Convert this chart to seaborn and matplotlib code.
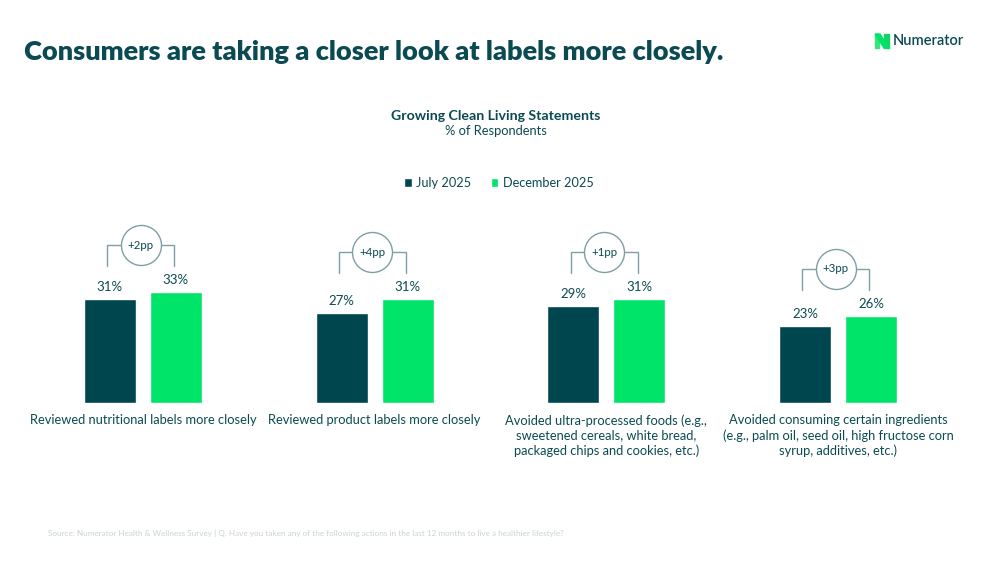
import matplotlib
matplotlib.use("Agg")
import matplotlib.pyplot as plt
import seaborn as sns
import pandas as pd
from matplotlib.patches import Rectangle, Polygon

# ---- data ----
categories = [
    "Reviewed nutritional labels more closely",
    "Reviewed product labels more closely",
    "Avoided ultra-processed foods (e.g.,\nsweetened cereals, white bread,\npackaged chips and cookies, etc.)",
    "Avoided consuming certain ingredients\n(e.g., palm oil, seed oil, high fructose corn\nsyrup, additives, etc.)",
]
periods = ["July 2025", "December 2025"]
july_2025 = [31, 27, 29, 23]
december_2025 = [33, 31, 31, 26]
changes = ["+2pp", "+4pp", "+1pp", "+3pp"]

title = "Consumers are taking a closer look at labels more closely."
chart_title = "Growing Clean Living Statements"
chart_subtitle = "% of Respondents"
source = ("Source: Numerator Health & Wellness Survey | Q. Have you taken any of the following "
          "actions in the last 12 months to live a healthier lifestyle?")

DARK = "#00464F"
GREEN = "#00E469"
TEXT = "#0B4A52"
LINE = "#7F9FA4"

W, H = 1003, 568
sns.set_theme(style="white")
plt.rcParams["font.family"] = ["Lato", "DejaVu Sans"]

fig = plt.figure(figsize=(W / 100, H / 100), dpi=100)
fig.patch.set_facecolor("white")


def fx(x):
    return x / W


def fy(y):
    return 1 - y / H


PX_PER_UNIT_Y = 3.35
ax_left, ax_right, ax_base, ax_top = 27, 954, 403, 203
ax = fig.add_axes([fx(ax_left), fy(ax_base), (ax_right - ax_left) / W, (ax_base - ax_top) / H])
ymax = (ax_base - ax_top) / PX_PER_UNIT_Y

short = [f"c{i}" for i in range(len(categories))]
df = pd.DataFrame({
    "category": short * 2,
    "period": [periods[0]] * 4 + [periods[1]] * 4,
    "value": july_2025 + december_2025,
})

BAR_W = 0.57
sns.barplot(data=df, x="category", y="value", hue="period", order=short,
            hue_order=periods, palette=[DARK, GREEN], width=BAR_W, gap=0.212,
            saturation=1, ax=ax, legend=True)

ax.set_xlim(-0.5, len(categories) - 0.5)
ax.set_ylim(0, ymax)
ax.set_axis_off()

off = BAR_W / 4
lab_gap = 12 / PX_PER_UNIT_Y
for i in range(len(categories)):
    for j, vals in enumerate([july_2025, december_2025]):
        xc = i + (-off if j == 0 else off)
        ax.text(xc, vals[i] + lab_gap, f"{vals[i]}%", ha="center", va="center",
                fontsize=9.5, color=TEXT)
    # bracket
    top = max(july_2025[i], december_2025[i])
    yh = top + 47 / PX_PER_UNIT_Y
    yb = yh - 21 / PX_PER_UNIT_Y
    xl, xr = i - off - 0.012, i + off - 0.008
    ax.plot([xl, xl, xr, xr], [yb, yh, yh, yb], color=LINE, lw=1.0, clip_on=False,
            solid_joinstyle="miter", zorder=3)
    xm = (xl + xr) / 2
    ax.plot([xm], [yh], marker="o", markersize=28.8, markerfacecolor="white",
            markeredgecolor=LINE, markeredgewidth=1.0, clip_on=False, zorder=4)
    ax.text(xm, yh, changes[i], ha="center", va="center", fontsize=8.3, color=TEXT,
            zorder=5)
    # category label
    ax.text(i, -3.4, categories[i], ha="center", va="top", fontsize=9.3, color=TEXT,
            linespacing=1.27, clip_on=False)

# legend
handles, labels = ax.get_legend_handles_labels()
ax.legend(handles, labels, loc="center", bbox_to_anchor=(fx(499), fy(183)),
          bbox_transform=fig.transFigure, ncol=2, frameon=False,
          handlelength=0.6, handleheight=0.6, handletextpad=0.35,
          columnspacing=1.5, fontsize=9.2, labelcolor=TEXT)

# titles
fig.text(fx(24), fy(52), title, ha="left", va="center", fontsize=19.5,
         fontweight="heavy", color=TEXT)
fig.text(fx(496), fy(116), chart_title, ha="center", va="center", fontsize=10.2,
         fontweight="bold", color=TEXT)
fig.text(fx(496), fy(131), chart_subtitle, ha="center", va="center", fontsize=9.3,
         color=TEXT)
fig.text(fx(48), fy(533), source, ha="left", va="center", fontsize=5.9,
         color="#C9D3D6")

# logo
fig.patches.append(Rectangle((fx(875), fy(48)), fx(4.5), 14 / H, transform=fig.transFigure,
                             color="#3BE37F", zorder=5))
fig.patches.append(Rectangle((fx(884.5), fy(48)), fx(4.5), 14 / H, transform=fig.transFigure,
                             color="#12D468", zorder=5))
fig.patches.append(Polygon([(fx(875), fy(34)), (fx(880), fy(34)), (fx(889), fy(48)), (fx(884), fy(48))],
                           closed=True, transform=fig.transFigure, color="#00E469", zorder=6))
fig.text(fx(893), fy(41), "Numerator", ha="left", va="center", fontsize=10.5,
         fontweight="semibold", color=TEXT)

fig.savefig("out.png", dpi=100, facecolor="white")
